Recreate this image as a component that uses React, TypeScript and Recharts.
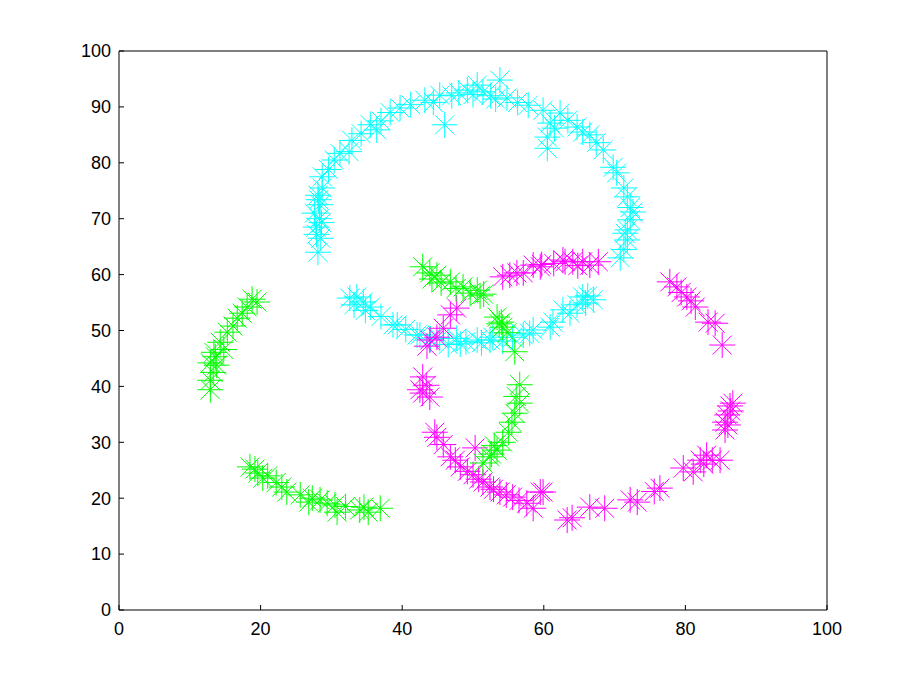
import { ScatterChart, Scatter, XAxis, YAxis } from 'recharts'

const cyanPts: [number, number][] = [
  [28.1, 64], [28.5, 66.5], [27.8, 68.5], [28.3, 70], [27.6, 71], [28.4, 72.5], [28.1, 74.2], [28.7, 75.5], [28.7, 77.5],
  [27.9, 67.2], [28.6, 69.3], [28.2, 73.4], [29.6, 78.8], [30.4, 80.5],
  [31.2, 81.7], [32.5, 82], [32.9, 84], [34.2, 85.2], [35.5, 86.8], [36.4, 85.9], [37, 87.5], [38.3, 89], [39.7, 89.8],
  [41.2, 90.4], [43.2, 91.2], [44.4, 90.8],
  [45.3, 92.1], [46, 86.8], [47, 92], [48, 92.5], [49.2, 93], [50.6, 93.9], [51.4, 92.7], [52.5, 92], [53.8, 94.8],
  [50, 92.2], [53.2, 91.4], [56.3, 90.8],
  [54.8, 91.6], [57.8, 90.3], [59.9, 89.4], [60.9, 87.1], [60.5, 84.6], [60.5, 82.6], [62.3, 88.9], [64.7, 86.4],
  [63.4, 87.6], [61.5, 86.2],
  [65.5, 85.5], [66.5, 85], [67.4, 83.6], [68.4, 82.3], [69.8, 79.2], [70.3, 78.2], [71.3, 75.5], [71.8, 73.9], [72.2, 72],
  [72.2, 69.8], [71.8, 68], [71.8, 66.2], [71.3, 64.5], [70.8, 63], [72.6, 71.2], [71.5, 67.4],
  [32.6, 55.8], [33.6, 56], [34.5, 55.1], [35.5, 54.2], [37, 52.5], [38.7, 51], [39.3, 51], [42.1, 49.2], [42.5, 49.2],
  [33.2, 54.6], [34.8, 53.6], [40.5, 50.2],
  [44, 48.5], [45.3, 48.6], [46.5, 47.5], [47.7, 48.6], [49, 48], [50.6, 48.3], [52.4, 48.3], [52.8, 48.8], [55.6, 48.8],
  [48.2, 47.6], [51.2, 47.8], [54.2, 48.1],
  [57.1, 49.2], [58, 49.5], [58.5, 50.1], [60.9, 50.6], [61.3, 51.5], [62.7, 53.7], [63.7, 53.1], [64.7, 54.6],
  [65.5, 56], [66.2, 56.2], [67, 55.5], [65.9, 54.9],
]

const greenPts: [number, number][] = [
  [19.5, 55.1], [18.1, 54.2], [17.4, 53.1], [16.7, 52.2], [15.3, 49.7], [14.3, 47.9], [13.6, 45.3], [13.8, 43.8],
  [12.9, 44.2], [13.3, 42.5], [12.9, 41.1], [12.9, 39.4], [18.8, 55.6], [16.1, 50.8], [14.8, 46.6], [13.4, 46.1],
  [18.5, 25.6], [19.6, 24.5], [20.3, 23.6], [21, 24], [23, 22], [23.7, 21.1], [27.3, 20], [28.4, 19.7], [29.4, 19.1],
  [19.2, 25.2], [22.2, 22.8], [25.6, 20.6], [26.8, 19.3],
  [30.5, 18.8], [30.8, 17.5], [32, 18.5], [34, 17.9], [35.2, 17.5], [36.9, 18.2], [34.6, 18.4],
  [42.9, 61.4], [43.9, 60.3], [44.9, 59.9], [45.5, 58.5], [46.8, 58.7], [48.6, 57.8], [49.6, 56.7], [50.6, 57.2],
  [44.2, 59.2], [47.6, 57.5], [51, 56.2],
  [51.5, 56.5], [53.4, 52.4], [54, 51.5], [54.2, 50.6], [54.8, 49.6], [55.9, 46.2], [53.7, 51.2],
  [56.6, 40.3], [56.6, 37], [55.9, 35.2], [55.5, 33.6], [54.2, 30], [53.4, 28.6], [52.4, 27.4], [51.4, 26.3],
  [56.1, 38.2], [55, 31.8], [53, 29.4], [52.6, 27.9],
]

const magentaPts: [number, number][] = [
  [43.9, 48.3], [44.9, 48.8], [46.8, 52.8], [47.7, 54], [54.2, 59.6], [55.2, 59.9], [56.2, 60.3], [57.1, 60.3],
  [45.8, 50.4], [43.5, 47.2],
  [58.5, 61.7], [59.5, 61.4], [59.7, 61.8], [62.7, 62.6], [63, 62.3], [64.1, 62.3], [65.5, 62.3], [66.5, 61.7], [67.7, 62.3],
  [61.4, 62], [64.8, 61.6],
  [77.8, 58.7], [78.8, 57.8], [80.2, 56], [81.4, 54.2], [83.2, 51.5], [84.2, 51.3], [85.2, 47.4], [79.4, 56.8],
  [80.8, 55.3],
  [86.7, 37], [86.3, 36.5], [85.9, 34.9], [85.6, 33.6], [85.6, 32.2], [86.4, 35.6], [86, 33.1],
  [83, 27.7], [82.1, 26.8], [83.8, 26.8], [84.9, 26.8], [79.7, 25.4], [81.1, 24.7], [76.4, 21.8], [73.2, 19.3],
  [72.2, 19.7], [68.6, 18.2], [66.5, 18.4], [64, 16.5], [63.3, 16.1], [82.6, 26.1], [75.6, 21.2],
  [42.9, 41.7], [42.9, 38.8], [42.5, 39.4], [43.9, 38.1], [43.4, 40.2], [44.6, 31.8], [44.9, 30.9], [46.8, 27.4],
  [48.2, 25.6], [45.8, 29.6], [47.5, 26.8],
  [50.3, 29], [50, 24.2], [51.4, 22.9], [52.4, 22], [53.8, 21.1], [55.6, 20.2], [57.6, 19.1], [58.5, 18.2],
  [59.5, 21.1], [59.9, 21.1], [49.2, 24.8], [50.8, 23.4], [52.9, 21.6], [54.7, 20.6], [56.5, 19.6],
]

const ticks = [0, 10, 20, 30, 40, 50, 60, 70, 80, 90, 100]
const xTicks = [0, 20, 40, 60, 80, 100]

const toRows = (pts: [number, number][]) => pts.map(([x, y]) => ({ x, y }))

// matlab-style '*' marker
const star = (color: string) => (props: any) => {
  const { cx, cy } = props
  const r = 13
  const d = 9.5
  const p = `M${cx - r},${cy}H${cx + r}M${cx},${cy - r}V${cy + r}` +
    `M${cx - d},${cy - d}L${cx + d},${cy + d}M${cx - d},${cy + d}L${cx + d},${cy - d}`
  return <path d={p} stroke={color} strokeWidth={1} fill="none" />
}

const font = { fontSize: 18, fill: '#000', fontFamily: '"Liberation Sans", Arial, sans-serif' }

export default function App() {
  return (
    <div style={{ position: 'absolute', left: 0, top: 0, width: 913, height: 687, background: '#fff' }}>
      <ScatterChart width={913} height={687} margin={{ top: 50, right: 85, left: 79, bottom: 47 }}>
        <XAxis xAxisId="b" type="number" dataKey="x" domain={[0, 100]} ticks={xTicks} tickSize={-5} tickMargin={17}
          stroke="#000" tick={font} height={30} />
        <XAxis xAxisId="t" orientation="top" type="number" dataKey="x" domain={[0, 100]} ticks={xTicks} tickSize={-5}
          stroke="#000" tick={false} height={1} />
        <YAxis yAxisId="l" type="number" dataKey="y" domain={[0, 100]} ticks={ticks} tickSize={-5} tickMargin={13}
          stroke="#000" tick={font} width={40} />
        <YAxis yAxisId="r" orientation="right" type="number" dataKey="y" domain={[0, 100]} ticks={ticks} tickSize={-5}
          stroke="#000" tick={false} width={1} />
        <Scatter xAxisId="b" yAxisId="l" data={toRows(cyanPts)} shape={star('#00FFFF')} isAnimationActive={false} />
        <Scatter xAxisId="b" yAxisId="l" data={toRows(magentaPts)} shape={star('#FF00FF')} isAnimationActive={false} />
        <Scatter xAxisId="b" yAxisId="l" data={toRows(greenPts)} shape={star('#00FF00')} isAnimationActive={false} />
      </ScatterChart>
    </div>
  )
}
